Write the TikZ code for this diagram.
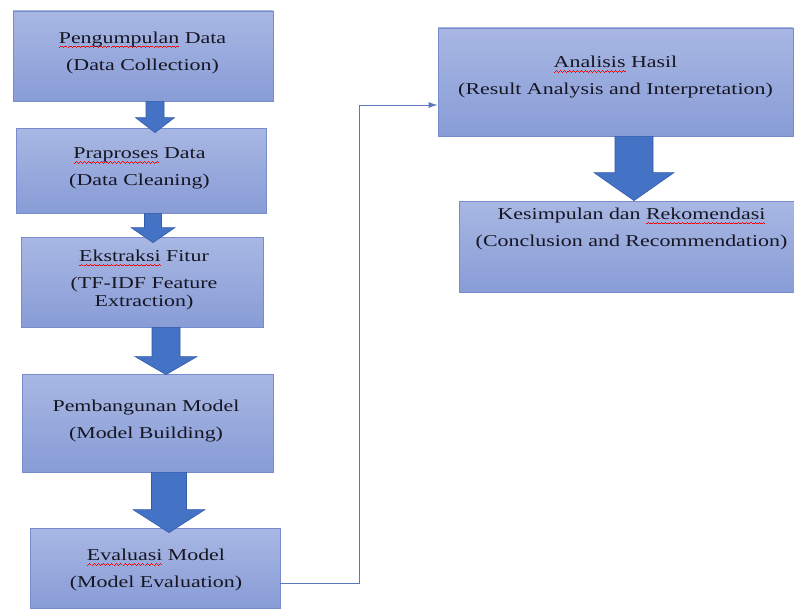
\documentclass[tikz,border=0pt]{standalone}
\usepackage{graphicx}
\usepackage{fontspec}
\setmainfont{Liberation Serif}
\usetikzlibrary{arrows.meta,calc}

\definecolor{boxtop}{RGB}{168,183,227}
\definecolor{boxbottom}{RGB}{136,156,214}
\definecolor{boxedge}{RGB}{118,140,204}
\definecolor{arrowfill}{RGB}{68,114,196}
\definecolor{arrowedge}{RGB}{52,92,170}
\definecolor{linkblue}{RGB}{92,118,190}
\definecolor{ink}{RGB}{22,22,34}

% red spell-check wave under a word
\newcommand{\wavebit}{\rule[-4.4pt]{0.8pt}{0.7pt}\rule[-3.8pt]{0.8pt}{0.7pt}\rule[-3.2pt]{0.8pt}{0.7pt}\rule[-3.8pt]{0.8pt}{0.7pt}}
\newcommand{\typo}[1]{\sbox0{#1}\makebox[0pt][l]{\textcolor{red}{\hbox to \wd0{\xleaders\hbox{\wavebit}\hfill}}}#1}
% text lines, stretched sideways like the picture
\newcommand{\wide}[1]{\scalebox{1.32}[1]{\begin{tabular}{@{}c@{}}#1\end{tabular}}}
% block arrow: from, to, x shift, shaft width, head width, head length, overlap
\newcommand{\blockarrow}[7]{%
  \draw[blockarr] let \p1=($(#1.south)+(#3,0)$), \p2=(#2.north) in
    (\x1-#4pt/2,\y1) -- (\x1+#4pt/2,\y1) -- (\x1+#4pt/2,\y2-#7pt+#6pt)
    -- (\x1+#5pt/2,\y2-#7pt+#6pt) -- (\x1,\y2-#7pt)
    -- (\x1-#5pt/2,\y2-#7pt+#6pt) -- (\x1-#4pt/2,\y2-#7pt+#6pt) -- cycle;}

\tikzset{
  box/.style={ % the blue steps
    draw=boxedge, line width=0.8pt,
    top color=boxtop, bottom color=boxbottom,
    inner sep=0pt},
  txt/.style={font=\fontsize{16.6}{27}\selectfont, text=ink, inner sep=0pt},
  blockarr/.style={fill=arrowfill, draw=arrowedge, line width=0.6pt, line join=miter},
  link/.style={draw=linkblue, line width=0.9pt, -{Latex[length=9pt,width=6pt]}}
}

\begin{document}
\begin{tikzpicture}[x=1pt,y=-1pt]
    \useasboundingbox[fill=white] (0,0) rectangle (794,610);

    \node[box, minimum width=260, minimum height=90] (b1) at (143,56)    {};
    \node[box, minimum width=250, minimum height=85] (b2) at (141,170.5) {};
    \node[box, minimum width=242, minimum height=90] (b3) at (142,282)   {};
    \node[box, minimum width=251, minimum height=98] (b4) at (147.5,423) {};
    \node[box, minimum width=250, minimum height=80] (b5) at (155,568)   {};
    \node[box, minimum width=355, minimum height=108] (b6) at (615.5,82) {};
    \node[box, minimum width=341, minimum height=91] (b7) at (629.5,246.5) {};

    \blockarrow{b1}{b2}{12}{18}{39}{15}{5}
    \blockarrow{b2}{b3}{12}{17}{44}{15}{6}
    \blockarrow{b3}{b4}{24}{28}{62}{18}{1}
    \blockarrow{b4}{b5}{21.5}{35}{72}{23}{5}
    \blockarrow{b6}{b7}{18.5}{38}{80}{28}{0}

    \draw[link] ($(b5.east)+(0,15)$) -- ++(79,0) |- ($(b6.west)+(0,23)$);

    \node[txt] (t1) at ($(b1)+(-0.5,-4.5)$) {\wide{\typo{Pengumpulan} Data\\ (Data Collection)}};
    \node[txt] (t2) at ($(b2)+(-1.5,-3.5)$) {\wide{\typo{Praproses} Data\\ (Data Cleaning)}};
    \node[txt] (t3) at ($(b3)+(2,-3.5)$)    {\wide{\typo{Ekstraksi} Fitur\\ (TF-IDF Feature\\[-9pt] Extraction)}};
    \node[txt] (t4) at ($(b4)+(-1.5,-3.5)$) {\wide{Pembangunan Model\\ (Model Building)}};
    \node[txt] (t5) at ($(b5)+(1,1)$)       {\wide{\typo{Evaluasi} Model\\ (Model Evaluation)}};
    \node[txt] (t6) at ($(b6)+(0,-6)$)      {\wide{\typo{Analisis} Hasil\\ (Result Analysis and Interpretation)}};
    \node[txt] (t7) at ($(b7)+(2,-19)$)     {\wide{Kesimpulan dan \typo{Rekomendasi}\\ (Conclusion and Recommendation)}};
\end{tikzpicture}
\end{document}
